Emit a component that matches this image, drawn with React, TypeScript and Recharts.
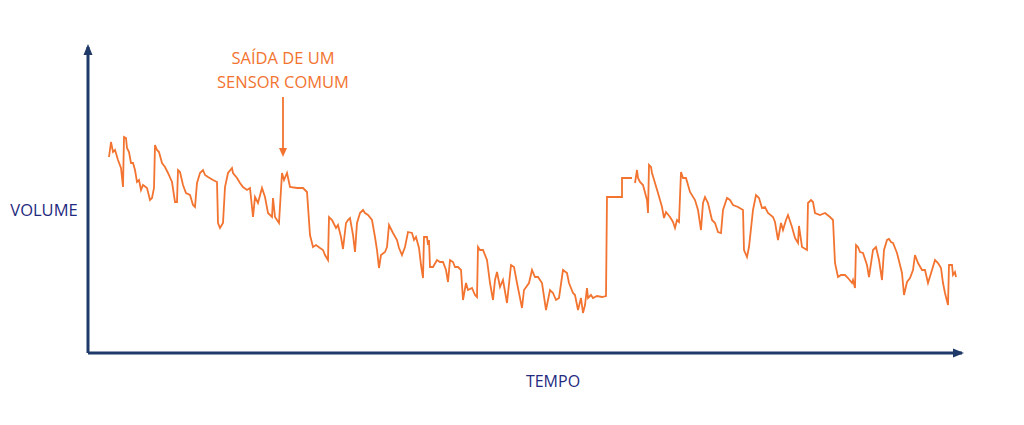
import React from 'react';
import { LineChart, Line, XAxis, YAxis } from 'recharts';

// time index (pixel-ish units along the axis) and sensor volume readings
const tempo = [
  21, 23, 25, 27, 30, 33, 35, 36, 38, 39, 41, 43, 45, 47, 49, 51, 53, 55, 59, 62,
  64, 66, 67, 69, 71, 74, 77, 80, 84, 87, 89, 90, 92, 95, 98, 102, 105, 107, 109, 112,
  115, 117, 120, 125, 129, 130, 132, 135, 137, 140, 144, 145, 149, 152, 155, 159, 162, 165, 167, 170,
  174, 177, 180, 184, 185, 187, 191, 194, 196, 199, 202, 209, 215, 219, 222, 225, 228, 232, 235, 237,
  240, 241, 244, 245, 248, 250, 253, 255, 258, 260, 262, 265, 267, 269, 272, 275, 277, 280, 284, 287,
  289, 291, 293, 297, 299, 301, 305, 309, 311, 314, 317, 320, 324, 326, 328, 331, 333, 335, 336, 339,
  340, 341, 342, 345, 349, 352, 355, 358, 360, 362, 365, 367, 370, 373, 375, 378, 380, 384, 387, 389,
  390, 392, 395, 399, 402, 405, 407, 409, 412, 415, 419, 423, 426, 429, 434, 436, 441, 444, 447, 450,
  454, 458, 462, 465, 468, 471, 475, 479, 481, 485, 487, 490, 493, 495, 497, 499, 500, 503, 505, 509,
  514, 518, 519, 534, 534, 544, 545, 547, 549, 550, 552, 555, 559, 560, 561, 563, 564, 567, 570, 574,
  576, 578, 582, 585, 587, 589, 591, 593, 595, 598, 602, 607, 610, 613, 615, 617, 620, 624, 627, 630,
  633, 635, 639, 642, 645, 650, 655, 656, 659, 661, 665, 668, 671, 674, 677, 680, 685, 687, 690, 693,
  695, 698, 700, 704, 707, 710, 711, 714, 719, 720, 723, 725, 727, 732, 737, 742, 745, 747, 750, 753,
  757, 760, 764, 765, 767, 768, 770, 772, 775, 779, 781, 785, 788, 791, 794, 796, 799, 801, 803, 805,
  809, 814, 816, 819, 822, 825, 827, 830, 834, 837, 840, 844, 847, 850, 853, 855, 857, 860, 861, 864,
  865, 867, 868,
];

const volume = [
  196, 211, 201, 203, 193, 185, 166, 216, 215, 205, 201, 190, 190, 183, 171, 173, 163, 168, 165, 153,
  155, 165, 208, 203, 201, 190, 186, 180, 171, 151, 151, 183, 181, 168, 160, 158, 148, 146, 170, 180,
  183, 178, 176, 173, 171, 130, 125, 130, 166, 180, 185, 180, 175, 170, 166, 163, 165, 136, 156, 150,
  165, 156, 140, 136, 155, 136, 130, 180, 173, 180, 166, 165, 165, 161, 118, 106, 108, 105, 103, 98,
  93, 136, 133, 131, 125, 128, 116, 104, 130, 133, 135, 118, 101, 130, 140, 143, 140, 138, 133, 116,
  103, 85, 98, 101, 106, 128, 120, 113, 105, 98, 106, 121, 120, 113, 116, 105, 88, 75, 116, 116,
  108, 113, 86, 86, 93, 91, 91, 83, 71, 93, 91, 86, 86, 83, 53, 70, 63, 65, 58, 56,
  106, 103, 103, 93, 70, 53, 73, 81, 66, 73, 50, 88, 86, 70, 45, 63, 70, 83, 76, 76,
  70, 43, 63, 60, 53, 55, 83, 80, 70, 60, 58, 43, 55, 40, 48, 65, 55, 58, 55, 57,
  56, 57, 156, 156, 175, 175, null, 170, 183, 175, 171, 168, 153, 140, 188, 186, 180, 170, 160, 146,
  135, 141, 136, 131, 125, 133, 131, 181, 175, 175, 161, 153, 143, 123, 150, 156, 150, 133, 130, 121,
  120, 143, 155, 153, 148, 146, 143, 103, 96, 106, 143, 158, 155, 145, 146, 140, 136, 131, 113, 130,
  123, 133, 138, 126, 115, 110, 127, 106, 103, 150, 153, 151, 140, 138, 140, 136, 133, 90, 76, 78,
  78, 75, 70, 73, 65, 108, 106, 101, 100, 88, 76, 103, 106, 93, 73, 103, 113, 114, 111, 110,
  100, 80, 58, 71, 75, 83, 98, 90, 83, 83, 70, 83, 93, 90, 85, 70, 60, 48, 88, 88,
  78, 81, 76,
];

const axisLabels = { y: 'VOLUME', x: 'TEMPO' };
const annotationLines = ['SAÍDA DE UM', 'SENSOR COMUM'];

const data = tempo.map((t, i) => ({ t, v: volume[i] }));

const NAVY = '#1F3A68';
const LABEL = '#1F2A80';
const ORANGE = '#F27430';
const FONT = '"Open Sans", "Noto Sans", sans-serif';

export default function App() {
  return (
    <div style={{ position: 'absolute', left: 0, top: 0, background: '#fff' }}>
      <LineChart
        width={1024}
        height={425}
        data={data}
        margin={{ top: 47, right: 62, bottom: 71, left: 87 }}
      >
        <XAxis
          type="number"
          dataKey="t"
          domain={[0, 874]}
          height={1}
          tick={false}
          tickLine={false}
          axisLine={{ stroke: NAVY, strokeWidth: 3 }}
          allowDataOverflow
        />
        <YAxis
          type="number"
          domain={[0, 306]}
          width={1}
          tick={false}
          tickLine={false}
          axisLine={{ stroke: NAVY, strokeWidth: 3 }}
          allowDataOverflow
        />
        <Line
          type="linear"
          dataKey="v"
          stroke={ORANGE}
          strokeWidth={1.8}
          dot={false}
          connectNulls={false}
          isAnimationActive={false}
        />
        {/* axis arrowheads */}
        <polygon points="88,44 83.5,55 92.5,55" fill={NAVY} />
        <polygon points="964,353 953,348.5 953,357.5" fill={NAVY} />
        {/* axis titles */}
        <text x={44} y={216} textAnchor="middle" fill={LABEL} fontFamily={FONT} fontSize={16.5}>
          {axisLabels.y}
        </text>
        <text x={553} y={387} textAnchor="middle" fill={LABEL} fontFamily={FONT} fontSize={16}>
          {axisLabels.x}
        </text>
        {/* annotation */}
        <text x={283} y={64} textAnchor="middle" fill={ORANGE} fontFamily={FONT} fontSize={16.5}>
          {annotationLines[0]}
        </text>
        <text x={283} y={88} textAnchor="middle" fill={ORANGE} fontFamily={FONT} fontSize={16.5}>
          {annotationLines[1]}
        </text>
        <line x1={283} y1={97} x2={283} y2={150} stroke={ORANGE} strokeWidth={1.8} />
        <polygon points="283,157 279,148 287,148" fill={ORANGE} />
      </LineChart>
    </div>
  );
}
